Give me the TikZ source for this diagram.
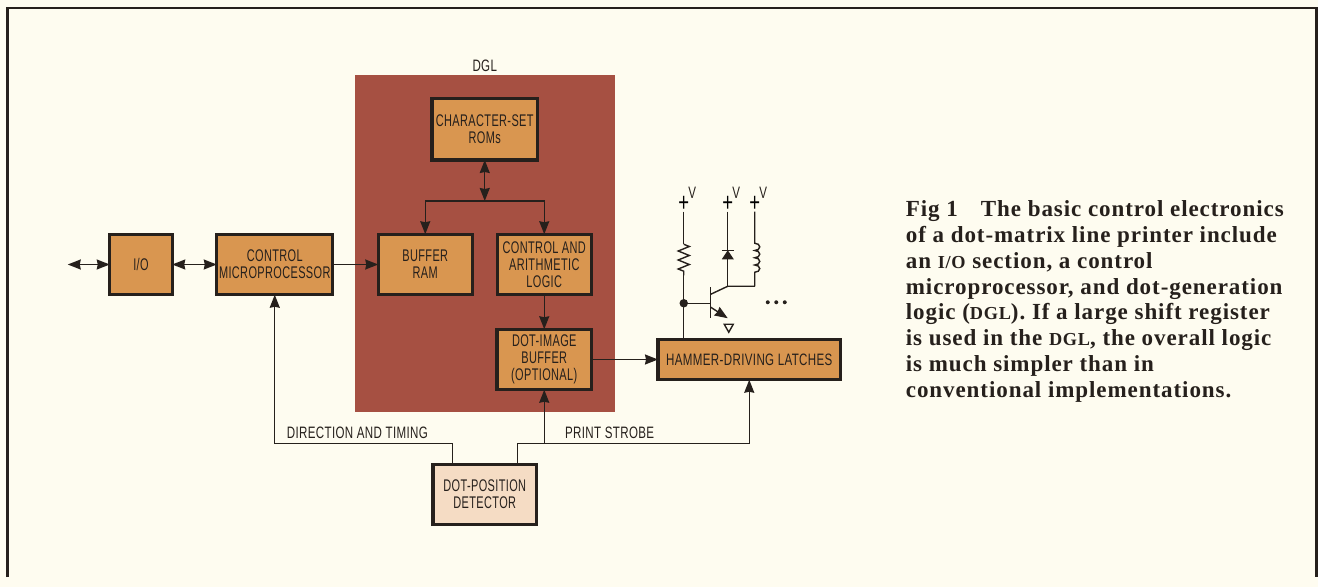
\documentclass[tikz,border=0pt]{standalone}
\usepackage{fontspec}
\usepackage{xcolor}
\usetikzlibrary{arrows.meta,positioning,calc,decorations.pathmorphing}
\newfontfamily\labelfont[FakeStretch=0.70,LetterSpace=2.2]{Liberation Sans}
\newfontfamily\blockfont[FakeStretch=0.65,LetterSpace=2.2]{Liberation Sans}
\newfontfamily\capfont[LetterSpace=4]{Liberation Serif}
\newcommand{\capsmall}[1]{{\fontsize{10.4}{10.4}\selectfont #1}}
\definecolor{paper}{RGB}{254,252,240}
\definecolor{panelred}{RGB}{166,80,66}
\definecolor{blockorange}{RGB}{217,150,80}
\definecolor{detectpink}{RGB}{245,220,196}
\definecolor{inkline}{RGB}{38,32,28}

\begin{document}
\begin{tikzpicture}[
    block/.style={draw=inkline, line width=1.9pt, fill=blockorange, minimum height=1.21cm, inner sep=0pt, outer sep=0pt, align=center, font=\blockfont\fontsize{9.6}{9.8}\selectfont, text=inkline},
    lbl/.style={inner sep=0pt, font=\labelfont\fontsize{9.4}{9.8}\selectfont, text=inkline},
    arrow/.style={-{Stealth[length=2.6mm, width=2mm, inset=0.2mm]}, line width=0.8pt, draw=inkline},
    both/.style={{Stealth[length=2.6mm, width=2mm, inset=0.2mm]}-{Stealth[length=2.6mm, width=2mm, inset=0.2mm]}, line width=0.8pt, draw=inkline},
    wire/.style={line width=0.8pt, draw=inkline}
]
    \useasboundingbox (0,0) rectangle (26.36,11.74);
    \fill[paper] (0,0) rectangle (26.36,11.74);
    \draw[inkline, line width=1.4pt] (0.146,0.2) |- (26.33,11.58) -- (26.33,0.2);

    % Blocks
    \node[block, minimum width=1.25cm] (io) at (2.82,6.45) {I/O};
    \node[block, minimum width=2.32cm, right=0.89cm of io] (micro) {CONTROL\\MICROPROCESSOR};
    \node[draw=none, fill=panelred, minimum width=5.19cm, minimum height=6.74cm, inner sep=0pt, outer sep=0pt] (panel) at (9.695,6.87) {};
    \node[lbl, above=0.06cm of panel] (dgl) {DGL};
    \node[block, minimum width=2.11cm, minimum height=1.23cm, below=0.47cm of panel.north] (rom) {CHARACTER-SET\\ROMs};
    \node[block, minimum width=1.88cm, right=0.91cm of micro] (ram) {BUFFER\\RAM};
    \node[block, minimum width=1.88cm, right=0.50cm of ram] (ctrl) {CONTROL AND\\ARITHMETIC\\LOGIC};
    \node[block, minimum width=1.89cm, below=0.69cm of ctrl] (image) {DOT-IMAGE\\BUFFER\\(OPTIONAL)};
    \node[block, minimum width=3.65cm, minimum height=0.81cm, right=1.33cm of image, font=\labelfont\fontsize{9.4}{9.8}\selectfont] (hammer) {HAMMER-DRIVING LATCHES};
    \node[block, fill=detectpink, minimum width=2.07cm, below=1.49cm of image, xshift=-1.19cm] (detect) {DOT-POSITION\\DETECTOR};

    % Forward arrows
    \coordinate (ext) at ($(io.west)+(-0.84,0)$);
    \coordinate (bus) at ($(rom.south)+(0,-0.82)$);
    \draw[both] (ext) -- (io);
    \draw[both] (io) -- (micro);
    \draw[arrow] (micro) -- (ram);
    \draw[both] (rom) -- (bus);
    \draw[arrow] (bus) -| (ram);
    \draw[arrow] (bus) -| (ctrl);
    \draw[arrow] (ctrl) -- (image);
    \draw[arrow] (image) -- (hammer.west |- image);

    % Detector lines
    \coordinate (dirtap) at ($(detect.north)+(-0.65,0)$);
    \coordinate (strobetap) at ($(detect.north)+(0.65,0)$);
    \coordinate (strobebus) at ($(strobetap)+(0,0.41)$);
    \draw[arrow] (dirtap) -- ++(0,0.41) -| (micro);
    \draw[arrow] (strobetap) -- (strobebus) -| (hammer);
    \draw[arrow] (strobebus -| image) -- (image);
    \node[lbl, anchor=south east] (dirlabel) at ($(dirtap)+(-0.48,0.50)$) {DIRECTION AND TIMING};
    \node[lbl, anchor=south west] (strobelabel) at ($(strobetap)+(0.95,0.50)$) {PRINT STROBE};

    % Hammer driver
    \coordinate (base) at ($(hammer.north)+(-1.31,0.72)$);
    \node[inner sep=0pt, font=\fontsize{15}{15}\selectfont\labelfont] (plusr) at ($(base)+(0,1.99)$) {+};
    \node[inner sep=0pt, font=\fontsize{15}{15}\selectfont\labelfont] (plusd) at ($(base)+(0.88,1.99)$) {+};
    \node[inner sep=0pt, font=\fontsize{15}{15}\selectfont\labelfont] (plusl) at ($(base)+(1.42,1.99)$) {+};
    \node[lbl, above right=-0.07cm and -0.03cm of plusr] (vr) {V};
    \node[lbl, above right=-0.07cm and -0.03cm of plusd] (vd) {V};
    \node[lbl, above right=-0.07cm and -0.03cm of plusl] (vl) {V};
    \coordinate (coll) at ($(base)+(0.88,0.34)$);
    \coordinate (coil) at ($(base)+(1.42,0.34)$);
    \coordinate (emit) at ($(base)+(0.88,-0.30)$);
    \coordinate (restop) at ($(base)+(0,1.18)$);
    \coordinate (resbot) at ($(base)+(0,0.56)$);
    \draw[wire] (plusr) -- (restop);
    \draw[wire, decorate, decoration={zigzag, amplitude=0.11cm, segment length=0.18cm}] (restop) -- (resbot);
    \draw[wire] (resbot) -- (hammer.north -| base);
    \fill[inkline] (base) circle (0.085);
    \draw[wire] (base) -- ++(0.54,0);
    \draw[wire] ($(base)+(0.54,0.32)$) -- ($(base)+(0.54,-0.30)$);
    \draw[wire] ($(base)+(0.54,0.18)$) -- (coll) -- (coil);
    \draw[arrow] ($(base)+(0.54,-0.08)$) -- (emit);
    \draw[wire] (plusd) -- (coll);
    \fill[inkline] ($(coll)+(0,0.72)$) -- ++(-0.12,-0.18) -- ++(0.24,0) -- cycle;
    \draw[wire] ($(coll)+(-0.12,0.72)$) -- ++(0.24,0);
    \draw[wire] (plusl) -- ($(base)+(1.42,1.20)$) arc[start angle=90, end angle=-90, x radius=0.1, y radius=0.0725] arc[start angle=90, end angle=-90, x radius=0.1, y radius=0.0725] arc[start angle=90, end angle=-90, x radius=0.1, y radius=0.0725] arc[start angle=90, end angle=-90, x radius=0.1, y radius=0.0725] -- (coil);
    \draw[wire] ($(emit)+(-0.07,-0.12)$) -- ++(0.18,0) -- ++(-0.09,-0.16) -- cycle;
    \fill[inkline] ($(base)+(1.68,0.02)$) circle (0.04) ++(0.17,0) circle (0.04) ++(0.17,0) circle (0.04);

    % Caption
    \node[anchor=north west, inner sep=0pt, align=left, font=\capfont\bfseries\fontsize{13.1}{14.74}\selectfont, text=inkline] (caption) at (18.11,7.74) {Fig 1\hspace{1em}The basic control electronics\\of a dot-matrix line printer include\\an \capsmall{I/O} section, a control\\microprocessor, and dot-generation\\logic (\capsmall{DGL}). If a large shift register\\is used in the \capsmall{DGL}, the overall logic\\is much simpler than in\\conventional implementations.};
\end{tikzpicture}
\end{document}
